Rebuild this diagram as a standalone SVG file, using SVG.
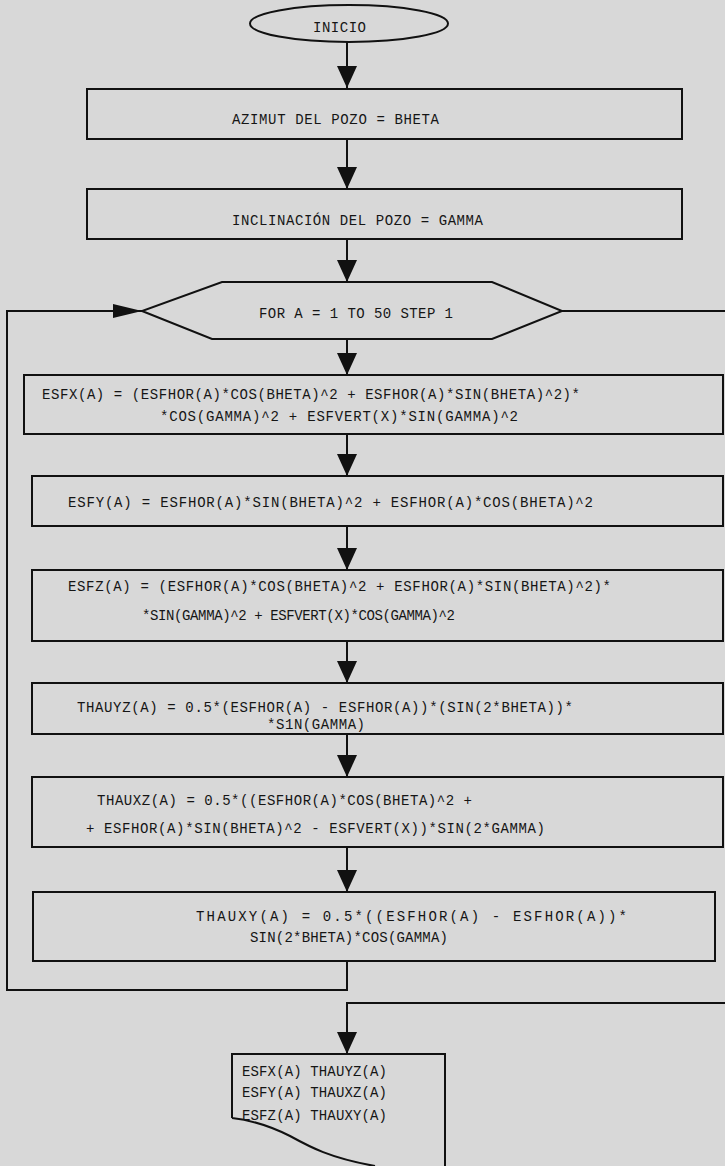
<svg xmlns="http://www.w3.org/2000/svg" width="725" height="1166" viewBox="0 0 725 1166">
  <style>
    .bg { fill: #d8d8d8; }
    .shape { fill: none; stroke: #111; stroke-width: 2; }
    .wire { fill: none; stroke: #111; stroke-width: 2; }
    .lbl { font-family: "Liberation Mono", "Courier New", monospace; font-size: 14px; fill: #151515; }
  </style>
  <defs>
    <marker id="arrowDown" viewBox="0 0 22 20" refX="22" refY="10" markerWidth="22" markerHeight="20" markerUnits="userSpaceOnUse" orient="auto">
      <path d="M0,0 L22,10 L0,20 Z" fill="#111"/>
    </marker>
    <marker id="arrowSide" viewBox="0 0 29 14" refX="29" refY="7" markerWidth="29" markerHeight="14" markerUnits="userSpaceOnUse" orient="auto">
      <path d="M0,0 L29,7 L0,14 Z" fill="#111"/>
    </marker>
  </defs>

  <rect class="bg" x="0" y="0" width="725" height="1166"/>

  <!-- connectors -->
  <g id="connectors">
    <path class="wire" d="M347,42 V88" marker-end="url(#arrowDown)"/>
    <path class="wire" d="M347,139 V189" marker-end="url(#arrowDown)"/>
    <path class="wire" d="M347,239 V282" marker-end="url(#arrowDown)"/>
    <path class="wire" d="M347,339 V375" marker-end="url(#arrowDown)"/>
    <path class="wire" d="M347,434 V476" marker-end="url(#arrowDown)"/>
    <path class="wire" d="M347,526 V570" marker-end="url(#arrowDown)"/>
    <path class="wire" d="M347,641 V683" marker-end="url(#arrowDown)"/>
    <path class="wire" d="M347,734 V777" marker-end="url(#arrowDown)"/>
    <path class="wire" d="M347,847 V892" marker-end="url(#arrowDown)"/>
    <!-- loop back to FOR -->
    <path class="wire" d="M347,961 V990 H7 V311 H142" marker-end="url(#arrowSide)"/>
    <!-- loop exit -->
    <path class="wire" d="M562,311 H725"/>
    <path class="wire" d="M725,1003 H347 V1054" marker-end="url(#arrowDown)"/>
  </g>

  <g id="inicio">
    <ellipse class="shape" cx="349" cy="23.5" rx="99" ry="18.5"/>
    <text class="lbl" x="313" y="32" textLength="53" lengthAdjust="spacing">INICIO</text>
  </g>

  <g id="azimut">
    <rect class="shape" x="87" y="89" width="595" height="50"/>
    <text class="lbl" x="232" y="124" textLength="207" lengthAdjust="spacing">AZIMUT DEL POZO = BHETA</text>
  </g>

  <g id="inclinacion">
    <rect class="shape" x="87" y="189" width="595" height="50"/>
    <text class="lbl" x="232" y="225" textLength="251" lengthAdjust="spacing">INCLINACIÓN DEL POZO = GAMMA</text>
  </g>

  <g id="for-loop">
    <polygon class="shape" points="222,282 492,282 562,311 492,339 212,339 142,311"/>
    <text class="lbl" x="259" y="318" textLength="194" lengthAdjust="spacing">FOR A = 1 TO 50 STEP 1</text>
  </g>

  <g id="esfx">
    <rect class="shape" x="24" y="375" width="699" height="59"/>
    <text class="lbl" x="42" y="399" textLength="538" lengthAdjust="spacing">ESFX(A) = (ESFHOR(A)*COS(BHETA)^2 + ESFHOR(A)*SIN(BHETA)^2)*</text>
    <text class="lbl" x="160" y="421" textLength="358" lengthAdjust="spacing">*COS(GAMMA)^2 + ESFVERT(X)*SIN(GAMMA)^2</text>
  </g>

  <g id="esfy">
    <rect class="shape" x="32" y="476" width="691" height="50"/>
    <text class="lbl" x="68" y="507" textLength="525" lengthAdjust="spacing">ESFY(A) = ESFHOR(A)*SIN(BHETA)^2 + ESFHOR(A)*COS(BHETA)^2</text>
  </g>

  <g id="esfz">
    <rect class="shape" x="32" y="570" width="691" height="71"/>
    <text class="lbl" x="68" y="591" textLength="543" lengthAdjust="spacing">ESFZ(A) = (ESFHOR(A)*COS(BHETA)^2 + ESFHOR(A)*SIN(BHETA)^2)*</text>
    <text class="lbl" x="142" y="620" textLength="313" lengthAdjust="spacing">*SIN(GAMMA)^2 + ESFVERT(X)*COS(GAMMA)^2</text>
  </g>

  <g id="thauyz">
    <rect class="shape" x="32" y="683" width="691" height="51"/>
    <text class="lbl" x="77" y="712" textLength="496" lengthAdjust="spacing">THAUYZ(A) = 0.5*(ESFHOR(A) - ESFHOR(A))*(SIN(2*BHETA))*</text>
    <text class="lbl" x="267" y="729" textLength="98" lengthAdjust="spacing">*S1N(GAMMA)</text>
  </g>

  <g id="thauxz">
    <rect class="shape" x="32" y="777" width="691" height="70"/>
    <text class="lbl" x="97" y="805" textLength="375" lengthAdjust="spacing">THAUXZ(A) = 0.5*((ESFHOR(A)*COS(BHETA)^2 +</text>
    <text class="lbl" x="86" y="833" textLength="459" lengthAdjust="spacing">+ ESFHOR(A)*SIN(BHETA)^2 - ESFVERT(X))*SIN(2*GAMMA)</text>
  </g>

  <g id="thauxy">
    <rect class="shape" x="33" y="892" width="682" height="69"/>
    <text class="lbl" x="196" y="921" textLength="431" lengthAdjust="spacing">THAUXY(A) = 0.5*((ESFHOR(A) - ESFHOR(A))*</text>
    <text class="lbl" x="250" y="942" textLength="198" lengthAdjust="spacing">SIN(2*BHETA)*COS(GAMMA)</text>
  </g>

  <g id="output-doc">
    <path class="shape" d="M232,1118 V1054 H445 V1168 M232,1118 C250,1120 270,1126 290,1136 C310,1147 330,1158 375,1166"/>
    <text class="lbl" x="242" y="1076" textLength="145" lengthAdjust="spacing">ESFX(A) THAUYZ(A)</text>
    <text class="lbl" x="242" y="1097" textLength="145" lengthAdjust="spacing">ESFY(A) THAUXZ(A)</text>
    <text class="lbl" x="242" y="1120" textLength="145" lengthAdjust="spacing">ESFZ(A) THAUXY(A)</text>
  </g>
</svg>
